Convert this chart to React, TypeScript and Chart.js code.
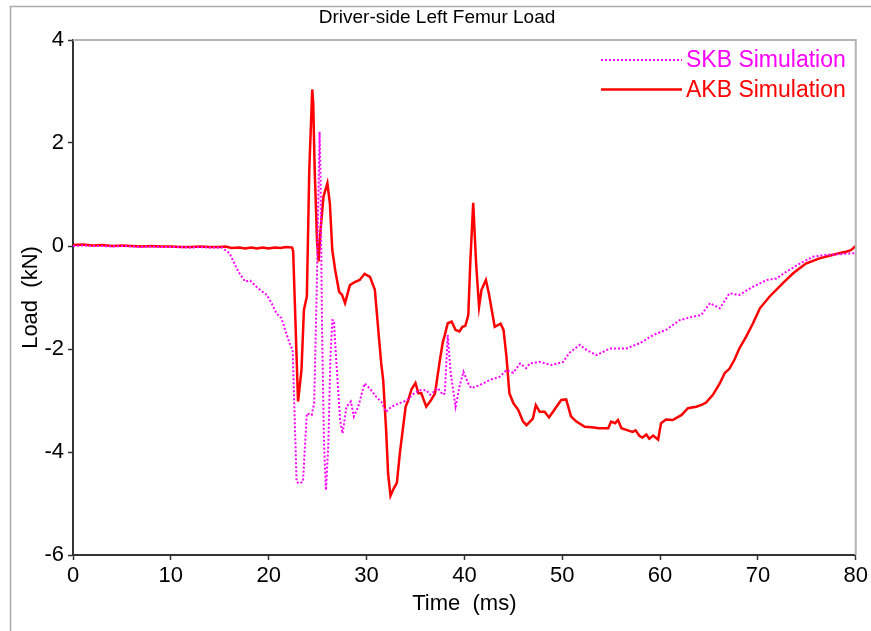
import React, { useEffect, useRef } from "react";
import { Chart, registerables } from "chart.js";

Chart.register(...registerables);

const FONT = '"Liberation Sans", Arial, Helvetica, sans-serif';

const chartTitle = "Driver-side Left Femur Load";
const xAxisTitle = "Time  (ms)";
const yAxisTitle = "Load  (kN)";
const seriesNames = ["SKB Simulation", "AKB Simulation"];
const seriesColors = ["#ff00ff", "#ff0000"];

const xTicks = [0, 10, 20, 30, 40, 50, 60, 70, 80];
const yTicks = [-6, -4, -2, 0, 2, 4];

// SKB simulation: time (ms) and femur load (kN)
const skbTime = [
  0, 1, 2, 3, 4, 5, 6, 7, 8, 9, 10, 11, 12, 13, 14, 15.2, 16.0, 16.9, 17.6, 18.1,
  18.9, 19.8, 20.3, 20.8, 21.3, 21.8, 22.2, 22.45, 22.85, 23.1, 23.5, 23.9, 24.4,
  24.65, 24.9, 25.2, 25.3, 25.45, 25.65, 25.85, 26.1, 26.3, 26.5, 26.65, 26.9, 27.3,
  27.55, 27.95, 28.4, 28.7, 29.15, 29.8, 30.3, 31.0, 31.5, 32.0, 32.55, 33.4, 34.1,
  34.8, 35.4, 36.1, 36.5, 37.3, 37.8, 38.0, 38.3, 38.6, 39.1, 39.5, 39.9, 40.4, 40.7,
  41.6, 42.6, 43.6, 44.3, 45.0, 45.7, 46.3, 46.7, 47.7, 48.9, 50.1, 50.7, 51.8, 52.5,
  53.5, 54.85, 56.55, 57.9, 59.3, 60.6, 62.0, 63.4, 64.2, 65.1, 66.1, 67.1, 68.1,
  69.5, 70.9, 71.9, 72.9, 74.3, 75.6, 77.0, 78.3, 79.7, 80,
];
const skbLoad = [
  0.0, 0.01, 0.0, 0.0, -0.01, 0.0, -0.01, -0.02, -0.01, -0.02, -0.02, -0.02, -0.03,
  -0.02, -0.03, -0.03, -0.14, -0.5, -0.69, -0.67, -0.82, -0.95, -1.11, -1.31, -1.4,
  -1.7, -1.92, -2.02, -4.58, -4.61, -4.58, -3.25, -3.28, -3.05, -0.92, 2.22, 1.35,
  -1.57, -3.83, -4.74, -3.83, -2.21, -1.44, -1.44, -2.21, -3.38, -3.64, -3.12, -3.02,
  -3.31, -3.12, -2.67, -2.76, -2.93, -3.02, -3.22, -3.12, -3.05, -3.0, -2.87, -2.8,
  -2.8, -2.89, -2.76, -2.89, -2.86, -1.73, -2.47, -3.12, -2.73, -2.44, -2.67, -2.76,
  -2.7, -2.6, -2.54, -2.41, -2.46, -2.28, -2.37, -2.28, -2.25, -2.31, -2.25, -2.08,
  -1.92, -2.02, -2.12, -1.99, -1.99, -1.89, -1.73, -1.63, -1.44, -1.37, -1.34, -1.11,
  -1.21, -0.92, -0.95, -0.79, -0.66, -0.63, -0.5, -0.34, -0.21, -0.17, -0.16, -0.14,
  -0.14,
];

// AKB simulation: time (ms) and femur load (kN)
const akbTime = [
  0, 1, 2, 3, 4, 5, 6, 7, 8, 9, 10, 11, 12, 13, 14, 15, 15.6, 16.2, 17, 17.6, 18.2,
  18.8, 19.4, 20, 20.6, 21.2, 21.8, 22.4, 22.5, 23.0, 23.35, 23.6, 23.9, 24.15, 24.45,
  24.55, 24.7, 24.95, 25.1, 25.3, 25.6, 26.0, 26.25, 26.5, 26.8, 27.2, 27.5, 27.8,
  28.3, 28.8, 29.3, 29.8, 30.35, 30.85, 31.2, 31.5, 31.7, 32.0, 32.2, 32.45, 32.8,
  33.1, 33.4, 33.7, 34.0, 34.25, 34.6, 35.0, 35.3, 35.6, 36.1, 36.6, 37.0, 37.5, 37.8,
  38.0, 38.3, 38.7, 38.85, 39.1, 39.5, 39.8, 40.1, 40.4, 40.6, 40.9, 41.2, 41.5, 41.75,
  42.2, 42.5, 43.1, 43.7, 44.0, 44.3, 44.6, 45.0, 45.5, 46.0, 46.35, 47.0, 47.3, 47.7,
  48.2, 48.65, 49.2, 49.9, 50.4, 50.9, 51.45, 52.3, 53.0, 53.8, 54.7, 55.0, 55.4, 55.7,
  56.05, 56.55, 57.2, 57.5, 57.9, 58.2, 58.6, 58.9, 59.3, 59.8, 60.1, 60.6, 61.3, 62.2,
  62.85, 63.7, 64.3, 64.7, 65.4, 66.1, 66.6, 67.1, 67.6, 68.1, 68.8, 69.5, 70.2, 71.2,
  72.55, 73.6, 74.9, 76.3, 77.7, 78.5, 79.0, 79.5, 80,
];
const akbLoad = [
  0.02, 0.03, 0.01, 0.02, 0.0, 0.01, 0.0, -0.01, 0.0, -0.01, -0.01, -0.02, -0.02,
  -0.01, -0.02, -0.02, -0.01, -0.04, -0.03, -0.05, -0.03, -0.05, -0.03, -0.05, -0.03,
  -0.04, -0.02, -0.03, -0.1, -3.02, -2.41, -1.24, -0.98, 1.48, 3.04, 2.78, 1.48, 0.06,
  -0.3, 0.31, 0.96, 1.22, 0.83, -0.08, -0.47, -0.89, -0.95, -1.11, -0.76, -0.7, -0.66,
  -0.54, -0.6, -0.85, -1.63, -2.28, -2.6, -3.57, -4.41, -4.85, -4.7, -4.6, -4.03,
  -3.57, -3.12, -3.0, -2.78, -2.66, -2.86, -2.86, -3.12, -2.99, -2.86, -2.21, -1.86,
  -1.73, -1.5, -1.47, -1.53, -1.63, -1.66, -1.57, -1.55, -1.34, -0.34, 0.84, -0.34,
  -1.18, -0.85, -0.66, -0.92, -1.57, -1.51, -1.63, -2.15, -2.86, -3.05, -3.18, -3.41,
  -3.48, -3.35, -3.09, -3.22, -3.22, -3.33, -3.18, -2.99, -2.98, -3.31, -3.41, -3.51,
  -3.52, -3.54, -3.54, -3.41, -3.44, -3.38, -3.54, -3.57, -3.61, -3.58, -3.69, -3.72,
  -3.66, -3.74, -3.68, -3.76, -3.44, -3.37, -3.38, -3.28, -3.15, -3.12, -3.08, -3.04,
  -2.89, -2.67, -2.47, -2.38, -2.21, -1.99, -1.76, -1.5, -1.21, -0.98, -0.72, -0.53,
  -0.34, -0.24, -0.17, -0.13, -0.11, -0.08, 0.0,
];

const toPoints = (xs: number[], ys: number[]) => xs.map((x, i) => ({ x, y: ys[i] }));

// Page frame, plot box top/right edges, title and legend
const decorations = {
  id: "decorations",
  beforeDraw(chart: any) {
    const { ctx, width, height } = chart;
    ctx.save();
    ctx.fillStyle = "#ffffff";
    ctx.fillRect(0, 0, width, height);
    ctx.restore();
  },
  afterDraw(chart: any) {
    const { ctx, chartArea: a, width, height } = chart;
    ctx.save();

    ctx.strokeStyle = "#ababab";
    ctx.lineWidth = 1.5;
    ctx.beginPath();
    ctx.moveTo(10.5, height);
    ctx.lineTo(10.5, 6.5);
    ctx.lineTo(width, 6.5);
    ctx.stroke();

    ctx.strokeStyle = "#b4b4b4";
    ctx.lineWidth = 2;
    ctx.beginPath();
    ctx.moveTo(a.left, a.top);
    ctx.lineTo(a.right, a.top);
    ctx.lineTo(a.right, a.bottom);
    ctx.stroke();

    ctx.fillStyle = "#000000";
    ctx.font = `19px ${FONT}`;
    ctx.textAlign = "center";
    ctx.textBaseline = "middle";
    ctx.fillText(chartTitle, 437, 18);

    const rows = [
      { y: 60, dash: [2, 2], lw: 2 },
      { y: 89.5, dash: [], lw: 2.5 },
    ];
    ctx.font = `23px ${FONT}`;
    ctx.textAlign = "left";
    rows.forEach((r, i) => {
      ctx.strokeStyle = seriesColors[i];
      ctx.lineWidth = r.lw;
      ctx.setLineDash(r.dash);
      ctx.beginPath();
      ctx.moveTo(601, r.y);
      ctx.lineTo(682, r.y);
      ctx.stroke();
      ctx.setLineDash([]);
      ctx.fillStyle = seriesColors[i];
      ctx.fillText(seriesNames[i], 686, r.y + 1);
    });

    ctx.restore();
  },
};

export default function App() {
  const canvasRef = useRef<HTMLCanvasElement | null>(null);

  useEffect(() => {
    const canvas = canvasRef.current;
    if (!canvas) return;
    const axisColor = "#333333";
    const chart = new Chart(canvas, {
      type: "line",
      data: {
        datasets: [
          {
            label: seriesNames[0],
            data: toPoints(skbTime, skbLoad),
            borderColor: seriesColors[0],
            borderWidth: 2,
            borderDash: [2, 2],
            pointRadius: 0,
            tension: 0,
            fill: false,
          },
          {
            label: seriesNames[1],
            data: toPoints(akbTime, akbLoad),
            borderColor: seriesColors[1],
            borderWidth: 2.5,
            pointRadius: 0,
            tension: 0,
            fill: false,
          },
        ],
      },
      options: {
        responsive: false,
        animation: false,
        devicePixelRatio: 1,
        layout: { padding: { left: 0, right: 15, top: 40, bottom: 0 } },
        plugins: {
          legend: { display: false },
          title: { display: false },
          tooltip: { enabled: false },
        },
        scales: {
          x: {
            type: "linear",
            min: xTicks[0],
            max: xTicks[xTicks.length - 1],
            afterBuildTicks: (s: any) => {
              s.ticks = xTicks.map((v) => ({ value: v }));
            },
            afterFit: (s: any) => {
              s.height = 76;
            },
            border: { color: axisColor, width: 2 },
            grid: {
              drawOnChartArea: false,
              drawTicks: true,
              tickLength: 5,
              tickColor: axisColor,
              tickWidth: 1.5,
            },
            ticks: {
              color: "#000000",
              font: { family: FONT, size: 22 },
              padding: 3,
              maxRotation: 0,
              autoSkip: false,
            },
            title: {
              display: true,
              text: xAxisTitle,
              color: "#000000",
              font: { family: FONT, size: 22 },
              padding: { top: 0, bottom: 14 },
            },
          },
          y: {
            type: "linear",
            min: yTicks[0],
            max: yTicks[yTicks.length - 1],
            afterBuildTicks: (s: any) => {
              s.ticks = yTicks.map((v) => ({ value: v }));
            },
            afterFit: (s: any) => {
              s.width = 73;
            },
            border: { color: axisColor, width: 2 },
            grid: {
              drawOnChartArea: false,
              drawTicks: true,
              tickLength: 5,
              tickColor: axisColor,
              tickWidth: 1.5,
            },
            ticks: {
              color: "#000000",
              font: { family: FONT, size: 22 },
              padding: 4,
              autoSkip: false,
            },
            title: {
              display: true,
              text: yAxisTitle,
              color: "#000000",
              font: { family: FONT, size: 22 },
              padding: { top: 18, bottom: 0 },
            },
          },
        },
      },
      plugins: [decorations],
    });
    return () => chart.destroy();
  }, []);

  return (
    <div style={{ position: "fixed", left: 0, top: 0, width: 871, height: 631, background: "#fff" }}>
      <canvas ref={canvasRef} width={871} height={631} style={{ display: "block" }} />
    </div>
  );
}
